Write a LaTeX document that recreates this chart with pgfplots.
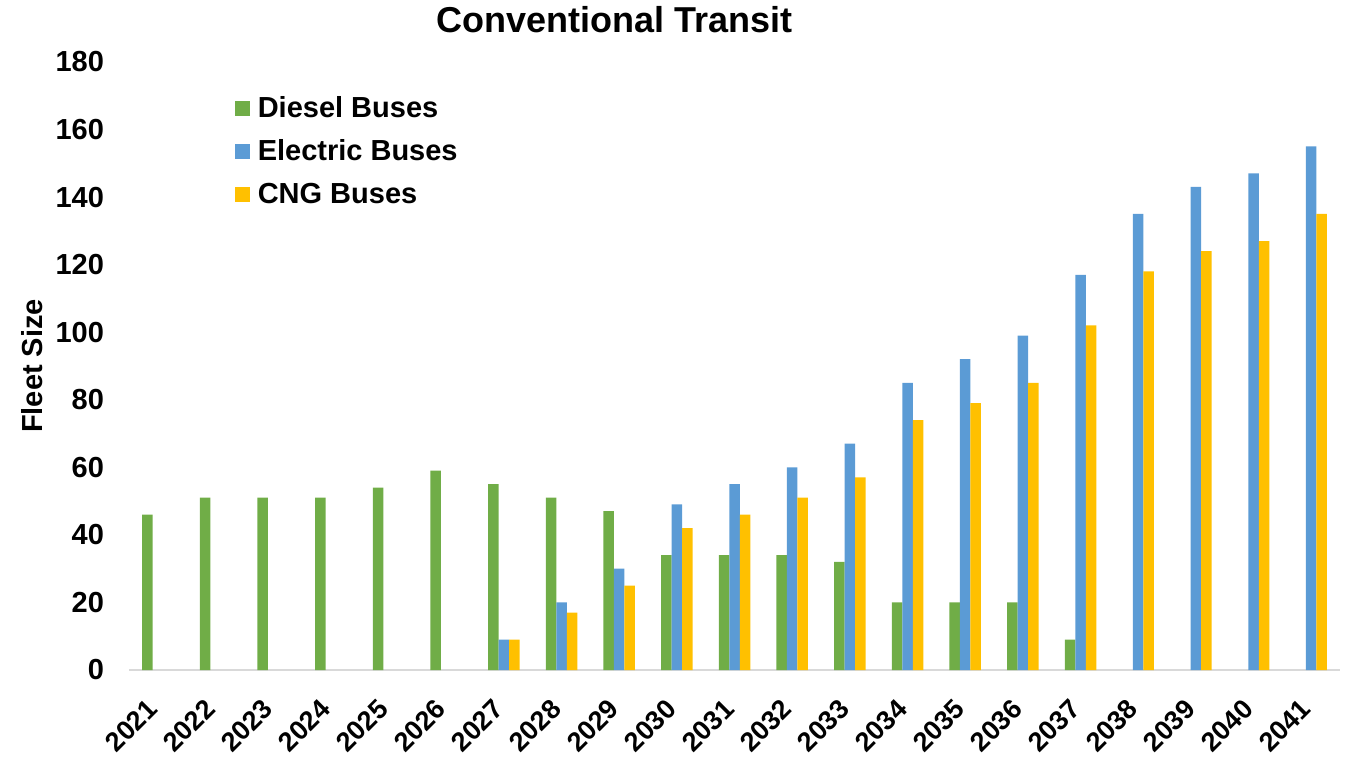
\documentclass[border=0pt]{standalone}
\usepackage{pgfplots}
\pgfplotsset{compat=1.18}
\usepackage{fontspec}
\setmainfont{Liberation Sans}
\definecolor{dieselgreen}{HTML}{70AD47}
\definecolor{elecblue}{HTML}{5B9BD5}
\definecolor{cnggold}{HTML}{FFC000}
\newcommand\lbl{\fontsize{14.5}{17}\selectfont\bfseries}
\newcommand\xlbl{\fontsize{13.5}{16}\selectfont\bfseries}
\begin{document}
\begin{tikzpicture}
\useasboundingbox (0,0) rectangle (674pt,378pt);
\begin{axis}[
  at={(64.5pt,43pt)}, anchor=south west,
  scale only axis, width=605.5pt, height=304pt,
  ybar=0pt, bar width=5.25pt,
  xmin=-0.5, xmax=20.5, ymin=0, ymax=180,
  xtick={0,...,20},
  xticklabels={2021,2022,2023,2024,2025,2026,2027,2028,2029,2030,2031,2032,2033,2034,2035,2036,2037,2038,2039,2040,2041},
  ytick={0,20,...,180},
  major tick length=0pt,
  axis lines*=left,
  x axis line style={draw=black!15, line width=0.9pt, -},
  y axis line style={draw=none},
  /pgf/number format/assume math mode=true,
  tick label style={font=\lbl},
  yticklabel style={anchor=east, xshift=-9pt},
  xticklabel style={font=\xlbl, rotate=45, anchor=north east, inner sep=0pt, xshift=-13.8pt, yshift=-5.3pt},
  title={Conventional Transit},
  title style={font=\fontsize{18}{21}\selectfont\bfseries, at={(axis description cs:0.401,1.069)}, anchor=center, yshift=-6pt},
  ylabel={Fleet Size},
  ylabel style={font=\lbl, at={(axis description cs:-0.080,0.5)}, anchor=center},
  legend style={at={(0.087,0.95)}, anchor=north west, draw=none, fill=none,
    font=\lbl, row sep=5.5pt, inner sep=0pt,
    /tikz/every even column/.append style={column sep=0pt}},
  legend cell align=left,
  legend image code/.code={\fill[#1] (0pt,-3.75pt) rectangle (7.5pt,3.75pt);},
]
\addplot[fill=dieselgreen, draw=none] coordinates {
  (0,46) (1,51) (2,51) (3,51) (4,54) (5,59) (6,55) (7,51) (8,47) (9,34)
  (10,34) (11,34) (12,32) (13,20) (14,20) (15,20) (16,9)};
\addplot[fill=elecblue, draw=none] coordinates {
  (6,9) (7,20) (8,30) (9,49) (10,55) (11,60) (12,67) (13,85) (14,92) (15,99)
  (16,117) (17,135) (18,143) (19,147) (20,155)};
\addplot[fill=cnggold, draw=none] coordinates {
  (6,9) (7,17) (8,25) (9,42) (10,46) (11,51) (12,57) (13,74) (14,79) (15,85)
  (16,102) (17,118) (18,124) (19,127) (20,135)};
\legend{{\hspace{2pt}Diesel Buses}, {\hspace{2pt}Electric Buses}, {\hspace{2pt}CNG Buses}}
\end{axis}
\end{tikzpicture}
\end{document}
